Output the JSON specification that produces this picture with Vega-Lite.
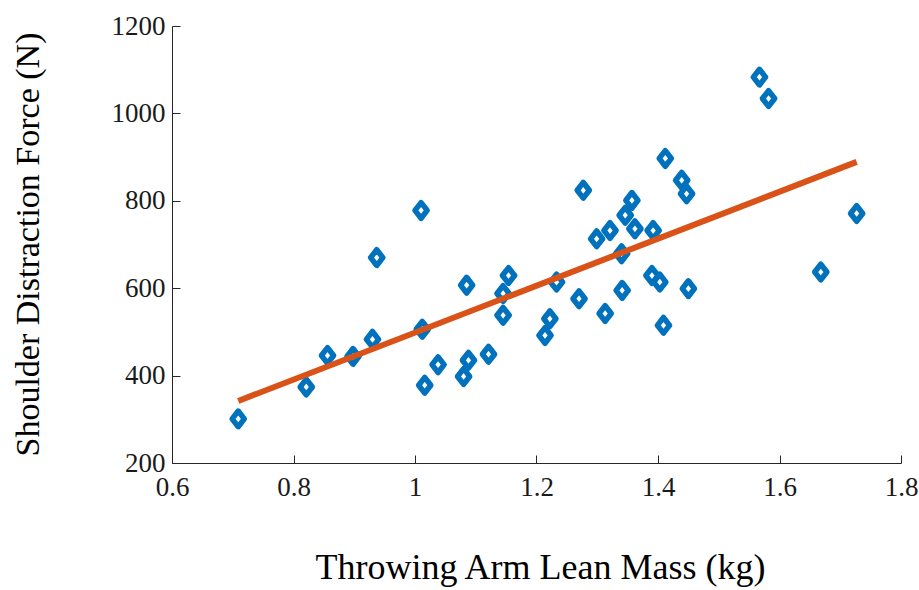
{
  "$schema": "https://vega.github.io/schema/vega-lite/v6.json",
  "width": 729,
  "height": 437,
  "autosize": {"type": "none"},
  "padding": {"left": 172, "top": 26, "right": 18, "bottom": 127},
  "background": "white",
  "config": {
    "view": {"stroke": null},
    "font": "Liberation Serif"
  },
  "datasets": {
    "pts": [
      {"mass": 0.709, "force": 301},
      {"mass": 0.821, "force": 374},
      {"mass": 0.856, "force": 446},
      {"mass": 0.898, "force": 444},
      {"mass": 0.930, "force": 483},
      {"mass": 0.937, "force": 670},
      {"mass": 1.010, "force": 778},
      {"mass": 1.012, "force": 506},
      {"mass": 1.016, "force": 378},
      {"mass": 1.038, "force": 425},
      {"mass": 1.080, "force": 398},
      {"mass": 1.085, "force": 607},
      {"mass": 1.088, "force": 435},
      {"mass": 1.121, "force": 449},
      {"mass": 1.145, "force": 588},
      {"mass": 1.145, "force": 538},
      {"mass": 1.154, "force": 629},
      {"mass": 1.214, "force": 492},
      {"mass": 1.222, "force": 530},
      {"mass": 1.233, "force": 614},
      {"mass": 1.270, "force": 576},
      {"mass": 1.277, "force": 824},
      {"mass": 1.299, "force": 713},
      {"mass": 1.313, "force": 542},
      {"mass": 1.321, "force": 732},
      {"mass": 1.340, "force": 679},
      {"mass": 1.341, "force": 595},
      {"mass": 1.346, "force": 767},
      {"mass": 1.357, "force": 801},
      {"mass": 1.362, "force": 736},
      {"mass": 1.392, "force": 732},
      {"mass": 1.390, "force": 629},
      {"mass": 1.403, "force": 614},
      {"mass": 1.409, "force": 515},
      {"mass": 1.412, "force": 897},
      {"mass": 1.439, "force": 847},
      {"mass": 1.447, "force": 816},
      {"mass": 1.450, "force": 599},
      {"mass": 1.567, "force": 1083},
      {"mass": 1.582, "force": 1034},
      {"mass": 1.668, "force": 637},
      {"mass": 1.727, "force": 771}
    ],
    "fit": [
      {"mass": 0.709, "force": 342},
      {"mass": 1.727, "force": 889}
    ]
  },
  "layer": [
    {
      "data": {"name": "pts"},
      "mark": {
        "type": "point",
        "shape": "M0,-1L0.78,0L0,1L-0.78,0Z",
        "size": 245,
        "filled": false,
        "fill": "white",
        "fillOpacity": 1,
        "stroke": "#0072BD",
        "strokeWidth": 5.5,
        "strokeJoin": "round",
        "opacity": 1
      },
      "encoding": {
        "x": {
          "field": "mass",
          "type": "quantitative",
          "scale": {"domain": [0.6, 1.8], "nice": false, "zero": false},
          "axis": {
            "title": "Throwing Arm Lean Mass (kg)",
            "values": [0.6, 0.8, 1.0, 1.2, 1.4, 1.6, 1.8],
            "format": "~g",
            "grid": false,
            "domainColor": "#262626",
            "domainWidth": 1,
            "tickColor": "#262626",
            "tickSize": -8,
            "tickWidth": 1,
            "labelFont": "Liberation Serif",
            "labelFontSize": 27,
            "labelColor": "#1a1a1a",
            "labelPadding": 19,
            "labelFlush": false,
            "titleFont": "Liberation Serif",
            "titleFontSize": 36,
            "titleFontWeight": "normal",
            "titleColor": "#000000",
            "titleBaseline": "alphabetic",
            "titleY": 115,
            "titleX": 368
          }
        },
        "y": {
          "field": "force",
          "type": "quantitative",
          "scale": {"domain": [200, 1200], "nice": false, "zero": false},
          "axis": {
            "title": "Shoulder Distraction Force (N)",
            "values": [200, 400, 600, 800, 1000, 1200],
            "format": "d",
            "grid": false,
            "domainColor": "#262626",
            "domainWidth": 1,
            "tickColor": "#262626",
            "tickSize": -8,
            "tickWidth": 1,
            "labelFont": "Liberation Serif",
            "labelFontSize": 27,
            "labelColor": "#1a1a1a",
            "labelPadding": 15,
            "labelFlush": false,
            "titleFont": "Liberation Serif",
            "titleFontSize": 34,
            "titleFontWeight": "normal",
            "titleColor": "#000000",
            "titleAngle": 270,
            "titleBaseline": "middle",
            "titleX": -144,
            "titleY": 218
          }
        }
      }
    },
    {
      "data": {"name": "fit"},
      "mark": {"type": "line", "color": "#D95319", "strokeWidth": 6, "strokeCap": "butt"},
      "encoding": {
        "x": {"field": "mass", "type": "quantitative"},
        "y": {"field": "force", "type": "quantitative"}
      }
    }
  ]
}
